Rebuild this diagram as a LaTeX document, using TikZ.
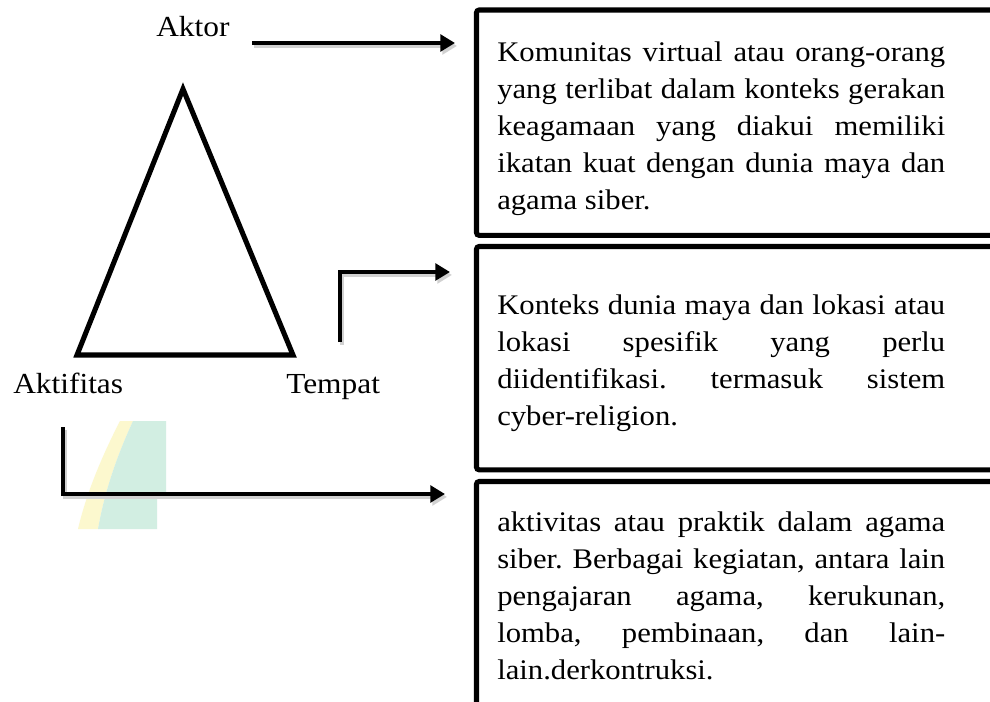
\documentclass[tikz,border=0pt]{standalone}
\usepackage{fontspec}
\setmainfont{Liberation Serif}[FakeStretch=1.08]
\usetikzlibrary{arrows.meta}
\definecolor{wmyellow}{RGB}{252,248,206}
\definecolor{wmteal}{RGB}{210,238,226}
\tikzset{
  conn/.style={line width=3.4pt, line cap=butt, line join=miter, -{Triangle[length=11pt,width=12.5pt]}},
  connshadow/.style={conn, black!18, transform canvas={shift={(1.5pt,-2.2pt)}}},
  descbox/.style={draw, line width=3.8pt, rounded corners=2pt, inner sep=0pt, outer sep=0pt, anchor=north west},
  desctext/.style={anchor=base west, inner sep=0pt, text width=336pt, align=left, font=\fontsize{21.3pt}{27.9pt}\selectfont\frenchspacing},
  lbl/.style={anchor=base west, inner sep=0pt, font=\fontsize{21.8pt}{28pt}\selectfont},
  tri/.style={draw, line width=3.8pt, line join=miter}
}
\newcommand{\jline}[1]{\leavevmode\hbox to 336pt{\spaceskip=0pt\xspaceskip=0pt\relax #1}}
\newcommand{\lline}[1]{\leavevmode\hbox{\spaceskip=0pt\xspaceskip=0pt\relax #1}}
\begin{document}
\begin{tikzpicture}[x=0.75pt,y=-0.75pt]
\useasboundingbox (0,0) rectangle (990,701);
\clip (0,0) rectangle (990,701);
\fill[white] (0,0) rectangle (990,701);

% faint background fragment
\begin{scope}
  \clip (78,421) rectangle (166,529);
  \fill[wmyellow] (120,421) .. controls (100,460) and (86,495) .. (78,529)
     -- (98,529) .. controls (104,495) and (115,460) .. (133,421) -- cycle;
  \fill[wmteal] (133,421) -- (166,421) -- (166,496) -- (157,496) -- (157,529)
     -- (98,529) .. controls (104,495) and (115,460) .. (133,421) -- cycle;
\end{scope}

% triangle
\coordinate (apex) at (183,89);
\coordinate (bl) at (77,355);
\coordinate (br) at (293,355);
\draw[tri] (apex) -- (br) -- (bl) -- cycle;

% labels
\node[lbl] (aktor) at (156,36) {Aktor};
\node[lbl] (aktifitas) at (13,393) {Aktifitas};
\node[lbl] (tempat) at (286,393) {Tempat};

% boxes
\node[descbox, minimum width=422pt, minimum height=169pt] (box1) at (476.5,10) {};
\node[descbox, minimum width=422pt, minimum height=167.5pt] (box2) at (476.5,246.5) {};
\node[descbox, minimum width=422pt, minimum height=209pt] (box3) at (476.5,481.5) {};

\node[desctext] (txt1) at (497,61) {%
\jline{Komunitas virtual atau orang-orang}\\
\jline{yang terlibat dalam konteks gerakan}\\
\jline{keagamaan yang diakui memiliki}\\
\jline{ikatan kuat dengan dunia maya dan}\\
\lline{agama siber.}};

\node[desctext] (txt2) at (497,314) {%
\jline{Konteks dunia maya dan lokasi atau}\\
\jline{lokasi spesifik yang perlu}\\
\jline{diidentifikasi. termasuk sistem}\\
\lline{cyber-religion.}};

\node[desctext] (txt3) at (497,531) {%
\jline{aktivitas atau praktik dalam agama}\\
\jline{siber. Berbagai kegiatan, antara lain}\\
\jline{pengajaran agama, kerukunan,}\\
\jline{lomba, pembinaan, dan lain-}\\
\lline{lain.derkontruksi.}};

% connectors
\coordinate (aktorS) at (252,43);
\coordinate (aktorE) at (455,43);
\coordinate (tmpS) at (340,342);
\coordinate (tmpE) at (450,272);
\coordinate (aktS) at (63,427);
\coordinate (aktE) at (445,494);

\draw[connshadow] (aktorS) -- (aktorE);
\draw[connshadow] (tmpS) |- (tmpE);
\draw[connshadow] (aktS) |- (aktE);
\draw[conn] (aktorS) -- (aktorE);
\draw[conn] (tmpS) |- (tmpE);
\draw[conn] (aktS) |- (aktE);
\end{tikzpicture}
\end{document}
